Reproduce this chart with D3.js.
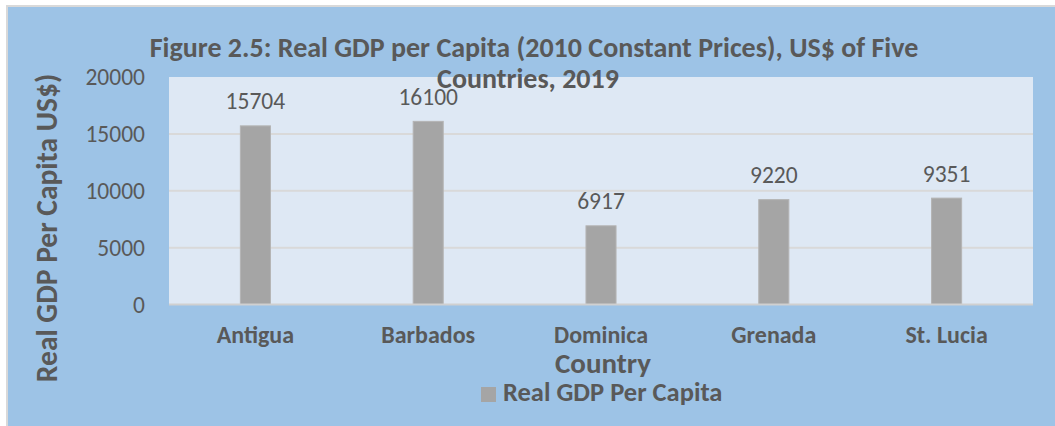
<!DOCTYPE html>
<html>
<head>
<meta charset="utf-8">
<script src="https://cdn.jsdelivr.net/npm/d3@7"></script>
<style>
  body { margin: 0; background: #ffffff; }
  svg text { font-family: Calibri, Carlito, Lato, sans-serif; fill: #595959; }
</style>
</head>
<body>
<div id="chart"></div>
<script>
// Data
var countries = ["Antigua", "Barbados", "Dominica", "Grenada", "St. Lucia"];
var gdpValues = [15704, 16100, 6917, 9220, 9351];
var yTicks = [0, 5000, 10000, 15000, 20000];
var seriesName = "Real GDP Per Capita";

// SVG setup
var width = 1055;
var height = 426;
var svg = d3.select("#chart").append("svg")
	.attr("width", width).attr("height", height);

// Outer chart area
svg.append("rect")
	.attr("x", 7).attr("y", 6)
	.attr("width", width).attr("height", height)
	.attr("fill", "#9dc3e6")
	.attr("stroke", "#d9d9d9")
	.attr("stroke-width", 2);

// Plot area
var plot = { left: 169, right: 1033, top: 77, bottom: 304.5 };

var x = d3.scaleBand()
	.domain(countries)
	.range([plot.left, plot.right])
	.paddingInner(0.826)
	.paddingOuter(0.413);

var y = d3.scaleLinear()
	.domain([0, 20000])
	.range([plot.bottom, plot.top]);

svg.append("rect")
	.attr("x", plot.left).attr("y", plot.top)
	.attr("width", plot.right - plot.left).attr("height", plot.bottom - plot.top)
	.attr("fill", "#dee8f4");

// Gridlines
svg.selectAll("line.grid").data(yTicks.filter(function(d) { return d > 0 && d < 20000; })).enter().append("line")
	.attr("class", "grid")
	.attr("x1", plot.left).attr("x2", plot.right)
	.attr("y1", function(d) { return y(d); })
	.attr("y2", function(d) { return y(d); })
	.attr("stroke", "#d9d9d9")
	.attr("stroke-width", 2);

// Y axis labels
var yAxis = d3.axisLeft(y).tickValues(yTicks).tickSize(0).tickPadding(24).tickFormat(d3.format("d"));
var yg = svg.append("g").attr("transform", "translate(" + plot.left + ",0)").call(yAxis);
yg.select(".domain").remove();
yg.selectAll("text").attr("font-size", "23.5px").attr("fill", "#595959");

// Bars
svg.selectAll("rect.bar").data(gdpValues).enter().append("rect")
	.attr("class", "bar")
	.attr("x", function(d, i) { return x(countries[i]); })
	.attr("y", function(d) { return y(d); })
	.attr("width", x.bandwidth())
	.attr("height", function(d) { return plot.bottom - y(d); })
	.attr("fill", "#a5a5a5")
	.attr("stroke", "#b4b4b4")
	.attr("stroke-width", 1);

// Baseline
svg.append("line")
	.attr("x1", plot.left).attr("x2", plot.right)
	.attr("y1", y(0)).attr("y2", y(0))
	.attr("stroke", "#d0d0d0")
	.attr("stroke-width", 2);

// Value labels
svg.selectAll("text.val").data(gdpValues).enter().append("text")
	.attr("class", "val")
	.text(function(d) { return d; })
	.attr("x", function(d, i) { return x(countries[i]) + x.bandwidth() / 2; })
	.attr("y", function(d) { return y(d) - 16.5; })
	.attr("text-anchor", "middle")
	.attr("font-size", "23.5px");

// X axis labels
var xAxis = d3.axisBottom(x).tickSize(0).tickPadding(21);
var xg = svg.append("g").attr("transform", "translate(0," + plot.bottom + ")").call(xAxis);
xg.select(".domain").remove();
xg.selectAll("text").attr("font-size", "24px").attr("font-weight", "bold").attr("fill", "#595959");

// Title
var title = svg.append("text")
	.attr("text-anchor", "middle")
	.attr("font-size", "28px")
	.attr("font-weight", "bold");
title.append("tspan").attr("x", 534).attr("y", 57).text("Figure 2.5: Real GDP per Capita (2010 Constant Prices), US$ of Five");
title.append("tspan").attr("x", 528).attr("y", 88).text("Countries, 2019");

// Axis titles
svg.append("text")
	.attr("transform", "translate(57,228) rotate(-90)")
	.attr("text-anchor", "middle")
	.attr("font-size", "29.5px")
	.attr("font-weight", "bold")
	.text("Real GDP Per Capita US$)");

svg.append("text")
	.attr("x", 603).attr("y", 373)
	.attr("text-anchor", "middle")
	.attr("font-size", "29px")
	.attr("font-weight", "bold")
	.text("Country");

// Legend
svg.append("rect")
	.attr("x", 481).attr("y", 387)
	.attr("width", 15).attr("height", 15)
	.attr("fill", "#a5a5a5");
svg.append("text")
	.attr("x", 503).attr("y", 401)
	.attr("font-size", "26.5px")
	.attr("font-weight", "bold")
	.text(seriesName);
</script>
</body>
</html>
